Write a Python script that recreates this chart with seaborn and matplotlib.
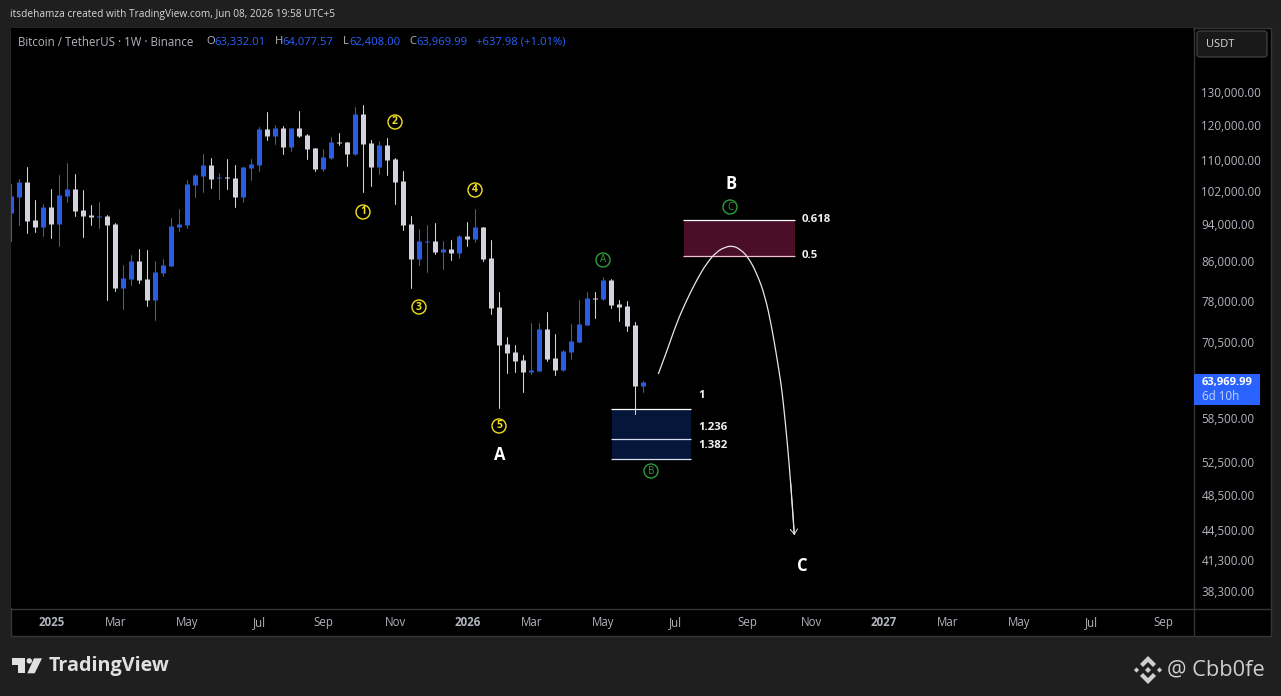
import matplotlib
matplotlib.use('Agg')
import matplotlib.pyplot as plt
import matplotlib.transforms as mtrans
from matplotlib.patches import Rectangle, Circle, Polygon, FancyBboxPatch, PathPatch
from matplotlib.path import Path
import pandas as pd
import seaborn as sns

W, H = 1281, 696

# weekly candles, first bar is the week of 2024-12-02
opens = [96700, 100500, 104300, 95000, 93400, 98100, 94100, 100800, 102500, 97400,
         96200, 95700, 96000, 94100, 80400, 82200, 85900, 82200, 78100, 83500,
         84900, 93400, 93900, 103500, 105800, 108700, 105300, 105600, 105300, 100500,
         107900, 108700, 118700, 116700, 119000, 113600, 119000, 117000, 113300, 107700,
         110600, 115000, 115000, 111700, 123200, 114700, 108200, 114200, 110300, 104500,
         94100, 86400, 90000, 90300, 87900, 88500, 87600, 91400, 90700, 93400,
         86600, 76800, 70100, 68800, 67400, 65500, 65600, 72800, 67800, 65800,
         68800, 70500, 73500, 78500, 78300, 82000, 77400, 77000, 73500, 63332.01]
highs = [103800, 105100, 108200, 99800, 98800, 102500, 106100, 109300, 106400, 102300,
         98600, 99300, 96200, 94300, 85100, 87200, 88500, 88300, 85900, 86400,
         95500, 97600, 104800, 106400, 111700, 110600, 106600, 110300, 108700, 108200,
         110300, 119300, 123800, 119900, 119600, 119000, 124100, 117300, 113300, 113100,
         116400, 117600, 115000, 125300, 125900, 115600, 115300, 116200, 110600, 107100,
         96000, 92900, 93900, 94300, 90300, 90500, 91600, 94600, 97600, 93400,
         90500, 79700, 71300, 70000, 68300, 73800, 73800, 75900, 71900, 69100,
         73700, 78100, 79700, 79700, 82600, 82200, 78100, 77900, 74000, 64077.57]
lows = [90300, 93900, 92000, 92300, 91400, 90900, 89200, 99300, 96000, 91100,
        93900, 93200, 78100, 79900, 76400, 81000, 81400, 77000, 74400, 82800,
        84900, 92500, 93200, 100500, 101800, 102800, 100000, 102500, 98100, 99300,
        104800, 107100, 115600, 114500, 111700, 112500, 116400, 110300, 107100, 107100,
        110300, 114200, 108500, 111400, 101800, 103300, 106400, 106100, 98800, 92700,
        80400, 85100, 83700, 87400, 84300, 86200, 86600, 89200, 90000, 85900,
        75500, 60000, 65300, 65500, 62400, 65200, 65600, 67300, 65000, 65600,
        67600, 70500, 73500, 74700, 78100, 76600, 74200, 72400, 59100, 62408.00]
closes = [100800, 104300, 94800, 93400, 98100, 94100, 101000, 102500, 97100, 96000,
          95700, 96000, 93900, 80400, 82400, 85900, 82000, 78100, 83700, 85100,
          93600, 94100, 103800, 106100, 108700, 105100, 105600, 105300, 100500, 108200,
          109000, 118700, 116700, 119000, 113600, 119000, 116700, 113100, 107700, 110900,
          115000, 114700, 111700, 123200, 114500, 108200, 114200, 110100, 104300, 93900,
          86400, 90300, 90300, 87900, 88500, 87600, 91400, 90700, 93400, 86400,
          76600, 70000, 68600, 67300, 65500, 65800, 72800, 67600, 65800, 68900,
          70700, 73700, 78500, 78300, 82000, 77200, 76800, 73300, 63332.01, 63969.99]

# hand drawn projection path
path_weeks = [80.87, 81.92, 83.17, 84.42, 85.67, 86.92, 88.17, 89.21, 90.12, 91.08, 92.12,
              93.17, 94.21, 95.04, 95.67, 96.2, 96.5, 97.0, 97.42, 97.87]
path_prices = [65170, 68830, 73890, 78110, 82030, 85500, 87920, 88900, 89210, 88500, 86700,
               83400, 78900, 73100, 67990, 63700, 60660, 54990, 49850, 43930]

# fib zones
fib_low_levels = [59770, 55530, 52960]
fib_low_weeks = [75, 85]
fib_high_levels = [95017, 86890]
fib_high_weeks = [84, 98]

price_ticks = [130000, 120000, 110000, 102000, 94000, 86000, 78000, 70500, 64500,
               58500, 52500, 48500, 44500, 41300, 38300]
time_ticks = ['2025-01-06', '2025-03-03', '2025-05-05', '2025-07-07', '2025-09-01', '2025-11-03',
              '2026-01-05', '2026-03-02', '2026-05-04', '2026-07-06', '2026-09-07', '2026-11-02',
              '2027-01-04', '2027-03-01', '2027-05-03', '2027-07-05', '2027-09-06']
time_labels = ['2025', 'Mar', 'May', 'Jul', 'Sep', 'Nov', '2026', 'Mar', 'May', 'Jul', 'Sep', 'Nov',
               '2027', 'Mar', 'May', 'Jul', 'Sep']

BLUE = '#2a5ce6'
GREY = '#d1d4dc'
YELLOW = '#f2e01e'
GREEN = '#2e9e3e'
BG = '#1f1f1f'
LINE = '#363636'
AXIS_TXT = '#b2b5be'

sns.set_theme(style='dark')
plt.rcParams['font.family'] = ['Open Sans', 'DejaVu Sans']

df = pd.DataFrame({'week': range(len(opens)), 'open': opens, 'high': highs, 'low': lows, 'close': closes})
df['dir'] = ['up' if c >= o else 'down' for o, c in zip(df['open'], df['close'])]
wicks = df.melt(id_vars=['week', 'dir'], value_vars=['low', 'high'], value_name='price').sort_values(['week', 'variable'])
bodies = df.melt(id_vars=['week', 'dir'], value_vars=['open', 'close'], value_name='price').sort_values(['week', 'variable'])
colors = {'up': BLUE, 'down': GREY}

fig = plt.figure(figsize=(W / 100, H / 100), dpi=100, facecolor=BG)
# pixel coordinates with y going down, for chrome around the chart
px = mtrans.Affine2D().scale(1 / W, -1 / H).translate(0, 1) + fig.transFigure

fig.add_artist(Rectangle((10.5, 27.5), 1260.5, 608, transform=px, fc='black', ec=LINE, lw=1, zorder=-1))

ax = fig.add_axes([11 / W, 1 - 608 / H, (1193 - 11) / W, (608 - 28) / H], facecolor='black')

sns.lineplot(data=wicks, x='week', y='price', units='week', estimator=None, hue='dir', palette=colors,
             sort=False, legend=False, lw=0.75, ax=ax)
sns.lineplot(data=bodies, x='week', y='price', units='week', estimator=None, hue='dir', palette=colors,
             sort=False, legend=False, lw=3.6, solid_capstyle='butt', ax=ax)

# blue fib zone
ax.add_patch(Rectangle((fib_low_weeks[0] + 0.1, fib_low_levels[2]), fib_low_weeks[1] - fib_low_weeks[0] - 0.2,
                       fib_low_levels[0] - fib_low_levels[2], fc='#06153a', ec='none', zorder=0))
ax.hlines(fib_low_levels, fib_low_weeks[0], fib_low_weeks[1], colors=['#ffffff', '#d5dcf0', '#d5dcf0'], lw=0.9, zorder=1)
# red fib zone
ax.add_patch(Rectangle((fib_high_weeks[0] + 0.1, fib_high_levels[1]), fib_high_weeks[1] - fib_high_weeks[0] - 0.2,
                       fib_high_levels[0] - fib_high_levels[1], fc='#4a0e28', ec='none', zorder=0))
ax.hlines(fib_high_levels, fib_high_weeks[0], fib_high_weeks[1], colors=['#ffffff', '#f5bdd3'], lw=0.9, zorder=1)

ax.set_yscale('log')
ax.set_xlim(-0.04, 147.7)
ax.set_ylim(36735, 152061)

# projection curve, the read points act as curve control points
verts = [(path_weeks[0], path_prices[0])]
codes = [Path.MOVETO]
for i in range(1, len(path_weeks) - 1):
    verts.append((path_weeks[i], path_prices[i]))
    verts.append(((path_weeks[i] + path_weeks[i + 1]) / 2, (path_prices[i] * path_prices[i + 1]) ** 0.5))
    codes += [Path.CURVE3, Path.CURVE3]
verts.append((path_weeks[-1], path_prices[-1]))
codes.append(Path.LINETO)
ax.add_patch(PathPatch(Path(verts, codes), fc='none', ec='#e8e8e8', lw=0.9))
ax.annotate('', xy=(path_weeks[-1], path_prices[-1]), xytext=(path_weeks[-2], path_prices[-2]),
            arrowprops=dict(arrowstyle='->,head_length=0.3,head_width=0.22', color='#e8e8e8', lw=0.7, shrinkA=0, shrinkB=0))

ax.yaxis.tick_right()
ax.set_yticks(price_ticks)
ax.set_yticklabels([f'{p:,.2f}' for p in price_ticks])
ax.minorticks_off()
start = pd.Timestamp('2024-12-02')
ax.set_xticks([(pd.Timestamp(t) - start).days / 7 for t in time_ticks])
ax.set_xticklabels(time_labels)
for lab in ax.get_xticklabels():
    if lab.get_text().startswith('20'):
        lab.set_fontweight('bold')
ax.tick_params(axis='y', length=0, pad=6, labelsize=8.4, labelcolor=AXIS_TXT)
ax.tick_params(axis='x', length=0, pad=5.5, labelsize=8.3, labelcolor=AXIS_TXT)
ax.set_xlabel('')
ax.set_ylabel('')
ax.grid(False)
for s in ax.spines.values():
    s.set_visible(False)

# pane separators
fig.add_artist(plt.Line2D([11, 1271], [608.5, 608.5], transform=px, color=LINE, lw=1))
fig.add_artist(plt.Line2D([1193.5, 1193.5], [28, 635], transform=px, color=LINE, lw=1))


def label(x, y, s, size=8.1, color=GREY, ha='left', weight='normal'):
    fig.text(x, y, s, transform=px, fontsize=size, color=color, ha=ha, va='center', fontweight=weight, zorder=5)


# header and legend
label(10, 15, 'itsdehamza created with TradingView.com, Jun 08, 2026 19:58 UTC+5', size=7.3, color='#d8d8d8')
label(18, 42, 'Bitcoin / TetherUS · 1W · Binance', size=8.3, color=AXIS_TXT)
for x, s in [(206, 'O'), (275, 'H'), (343, 'L'), (409, 'C')]:
    label(x, 42, s, size=8.1, color=AXIS_TXT)
for x, s in [(214.5, '63,332.01'), (282.5, '64,077.57'), (349, '62,408.00'), (416, '63,969.99'),
             (476, '+637.98 (+1.01%)')]:
    label(x, 42, s, size=8.1, color='#2962ff')

# currency button and last price tag
fig.add_artist(FancyBboxPatch((1197, 31), 70, 26, boxstyle='round,pad=0,rounding_size=3', transform=px,
                              fc='#191919', ec='#3c3c3c', lw=1, zorder=3))
label(1206, 44.5, 'USDT', size=8, color='#d8d8d8')
fig.add_artist(Rectangle((1194, 374), 66, 31, transform=px, fc='#2962ff', ec='none', zorder=4))
label(1202, 382, '63,969.99', color='white', weight='bold', size=8)
label(1202, 396, '6d 10h', color='#c3d3ff', size=8.4)

# wave counts
for x, y, s in [(363, 212, '1'), (395, 122, '2'), (419, 307, '3'), (475, 190, '4'), (499, 426, '5')]:
    fig.add_artist(Circle((x, y), 7, transform=px, fc='none', ec=YELLOW, lw=1, zorder=4))
    fig.text(x, y, s, transform=px, fontsize=7.5, color=YELLOW, ha='center', va='center', fontweight='bold', zorder=5)
for x, y, s in [(603, 260, 'A'), (651, 471, 'B'), (730, 207, 'C')]:
    fig.add_artist(Circle((x, y), 7, transform=px, fc='none', ec=GREEN, lw=1, zorder=4))
    fig.text(x, y, s, transform=px, fontsize=7, color=GREEN, ha='center', va='center', zorder=5)
for x, y, s in [(500, 455, 'A'), (731, 184, 'B'), (802, 566, 'C')]:
    fig.text(x, y, s, transform=px, fontsize=12, color='white', ha='center', va='center', fontweight='bold', zorder=5)
for x, y, s in [(802, 220, '0.618'), (802, 256, '0.5'), (698, 396, '1'), (698, 427, '1.236'), (698, 446, '1.382')]:
    label(x, y, s, size=8.2, color='#f0f0f0', weight='bold')

# TradingView logo
logo = '#e0e0e0'
fig.add_artist(Polygon([(12, 658.3), (25.3, 658.3), (25.3, 673.3), (18.3, 673.3), (18.3, 664.5), (12, 664.5)],
                       transform=px, fc=logo, ec='none'))
fig.add_artist(Circle((29.3, 660.9), 2.7, transform=px, fc=logo, ec='none'))
fig.add_artist(Polygon([(34, 658.3), (42, 658.3), (34.7, 673.3), (27.3, 673.3)], transform=px, fc=logo, ec='none'))
label(48.5, 665.5, 'TradingView', size=14.2, color=logo, weight='bold')

# Binance mark and handle
bx, by = 1148, 670
wm = '#cfcfcf'
fig.add_artist(Polygon([(bx, by - 14), (bx + 8, by - 6), (bx + 5, by - 3), (bx, by - 8), (bx - 5, by - 3), (bx - 8, by - 6)],
                       transform=px, fc=wm, ec='none'))
fig.add_artist(Polygon([(bx, by + 14), (bx + 8, by + 6), (bx + 5, by + 3), (bx, by + 8), (bx - 5, by + 3), (bx - 8, by + 6)],
                       transform=px, fc=wm, ec='none'))
for dx, r in [(0, 3), (-11.5, 2.6), (11.5, 2.6)]:
    fig.add_artist(Polygon([(bx + dx, by - r), (bx + dx + r, by), (bx + dx, by + r), (bx + dx - r, by)],
                           transform=px, fc=wm, ec='none'))
label(1167, 670, '@ Cbb0fe', size=15.7, color=wm)

fig.savefig('out.png', dpi=100, facecolor=BG)
